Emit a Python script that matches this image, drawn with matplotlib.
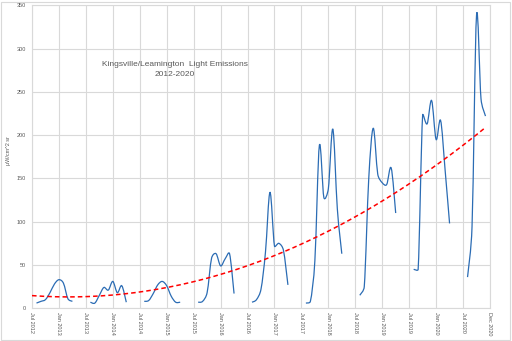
import numpy as np
import matplotlib.pyplot as plt
from matplotlib.path import Path
from matplotlib.patches import PathPatch, Rectangle

plt.rcParams['font.family'] = ['Liberation Sans', 'DejaVu Sans']

# months counted from Jul 2012; each season runs Aug..Apr (summer months missing)
seg_start = [1, 13, 25, 37, 49, 61, 73, 85, 97]
s2012 = [6, 8, 10, 18, 28, 33, 29, 11, 8]
s2013 = [7, 6, 15, 24, 21, 31, 18, 26, 7]
s2014 = [8, 9, 17, 27, 31, 26, 14, 7, 7]
s2015 = [7, 8, 18, 58, 63, 49, 57, 63, 17]
s2016 = [7, 10, 22, 65, 134, 72, 75, 67, 27]
s2017 = [6, 8, 55, 188, 128, 138, 207, 115, 63]
s2018 = [15, 25, 150, 208, 155, 145, 143, 162, 110]
s2019 = [45, 45, 223, 213, 240, 195, 217, 160, 98]
s2020 = [36, 94, 338, 242, 222]
seasons = [s2012, s2013, s2014, s2015, s2016, s2017, s2018, s2019, s2020]

tick_labels = ["Jul 2012", "Jan 2013", "Jul 2013", "Jan 2014", "Jul 2014",
               "Jan 2015", "Jul 2015", "Jan 2016", "Jul 2016", "Jan 2017",
               "Jul 2017", "Jan 2018", "Jul 2018", "Jan 2019", "Jul 2019",
               "Jan 2020", "Jul 2020", "Dec 2020"]

title = "Kingsville/Leamington  Light Emissions\n2012-2020"
ylabel = "\u03bcW/cm^2 sr"

BLUE = "#2b6cb4"
GRAY = "#d9d9d9"
TXT = "#595959"

# rough screen scale (px per month, px per unit) used for the smoothing
SX, SY = 4.49, 0.866


def smooth_path(x, y):
    # excel style smoothed line: bezier arms of 1/6, capped at half the segment
    p = np.column_stack([np.asarray(x, float) * SX, np.asarray(y, float) * SY])
    p = np.vstack([p[:1], p, p[-1:]])
    verts = [tuple(p[1])]
    codes = [Path.MOVETO]
    for i in range(1, len(p) - 2):
        d12 = np.hypot(*(p[i + 1] - p[i]))
        a1 = (p[i + 1] - p[i - 1]) / 6
        a2 = (p[i + 2] - p[i]) / 6
        for a in (a1, a2):
            n = np.hypot(*a)
            if n > d12 / 2:
                a *= d12 / 2 / n
        verts += [tuple(p[i] + a1), tuple(p[i + 1] - a2), tuple(p[i + 1])]
        codes += [Path.CURVE4] * 3
    verts = [(vx / SX, vy / SY) for vx, vy in verts]
    return Path(verts, codes)


fig = plt.figure(figsize=(5.12, 3.41), dpi=100)
ax = fig.add_axes([0.0625, 0.096, 0.8945, 0.8885])

all_x = []
all_y = []
for start, vals in zip(seg_start, seasons):
    xs = np.arange(start, start + len(vals))
    ax.add_patch(PathPatch(smooth_path(xs, vals), fill=False, edgecolor=BLUE,
                           lw=0.9, zorder=3))
    all_x += list(xs)
    all_y += list(vals)

# polynomial (order 2) trendline
coef = np.polyfit(all_x, all_y, 2)
tx = np.linspace(0, 101, 200)
ax.plot(tx, np.polyval(coef, tx), color="#ff0000", lw=1.1, dashes=(3, 2), zorder=4)

ax.set_xlim(0, 102)
ax.set_ylim(0, 350)
ax.set_xticks(np.arange(0, 103, 6))
ax.set_xticklabels(tick_labels, rotation=270, fontsize=4, color=TXT)
ax.set_yticks(np.arange(0, 351, 50))
ax.tick_params(axis='y', labelsize=4, labelcolor=TXT, length=0, pad=4.5)
ax.tick_params(axis='x', length=0, pad=2.5)
ax.grid(True, color=GRAY, lw=0.8)
ax.set_axisbelow(True)
for s in ax.spines.values():
    s.set_color(GRAY)
    s.set_linewidth(0.8)

ax.set_ylabel(ylabel, fontsize=4, color=TXT)
ax.yaxis.set_label_coords(-0.045, 0.52)

fig.text(0.342, 0.796, title, ha='center', va='center', fontsize=6,
         color=TXT, linespacing=1.6)

fig.patches.append(Rectangle((0.002, 0.004), 0.994, 0.99, transform=fig.transFigure,
                             fill=False, edgecolor=GRAY, lw=0.8))

fig.savefig("out.png", dpi=100)
